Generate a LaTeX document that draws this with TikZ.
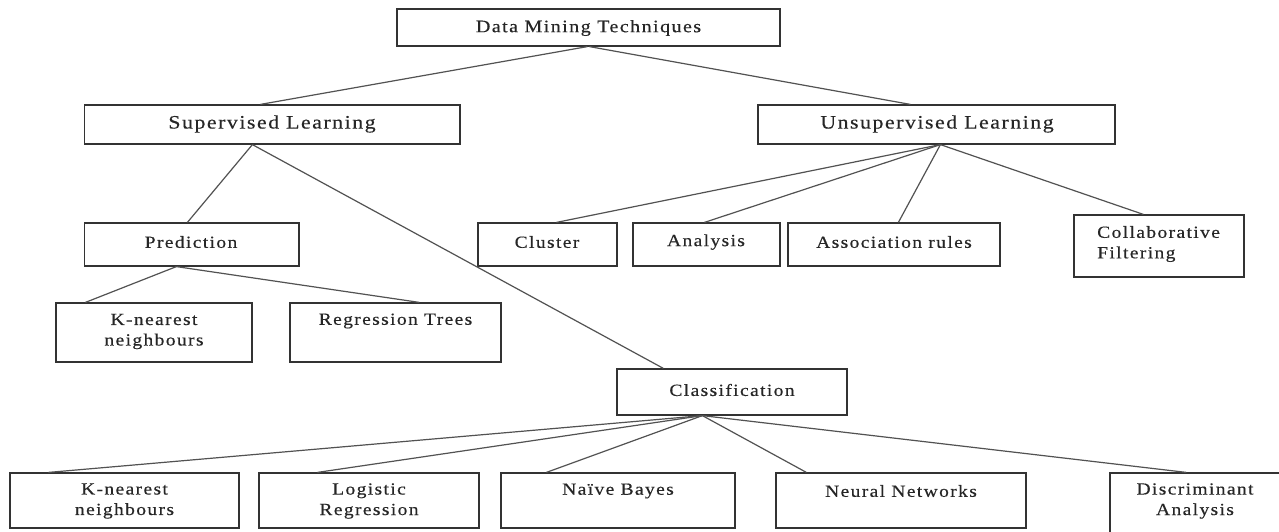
\documentclass[tikz,border=0pt]{standalone}
\usepackage{fontspec}
\setmainfont{Liberation Serif}[LetterSpace=8, FakeStretch=1.15, FakeBold=0.35]
\usetikzlibrary{fit}
\newcommand\mybox[5]{\node[box, fit={(#2,#3) (#4,#5)}] (#1) {};}
\begin{document}
\begin{tikzpicture}[x=1pt,y=-1pt,
  box/.style={draw=black!80, line width=1.2pt, inner sep=0pt},
  lbl/.style={font=\fontsize{17}{20.5}\selectfont, align=center, inner sep=0pt, text=black!85},
  head/.style={lbl, font=\fontsize{19}{22}\selectfont},
  top/.style={lbl, font=\fontsize{17.5}{21}\selectfont},
  con/.style={draw=black!68, line width=1.2pt}]
\clip (0,0) rectangle (1279,531);
\fill[white] (0,0) rectangle (1279,531);
% boxes
\mybox{dmt}{397}{9}{780}{46}
\mybox{sup}{84.5}{105}{460}{144}
\mybox{uns}{758}{105}{1115}{144}
\mybox{pred}{84.5}{223}{299}{266}
\mybox{clu}{478}{223}{617}{266}
\mybox{ana}{633}{223}{780}{266}
\mybox{asc}{788}{223}{1000}{266}
\mybox{col}{1074}{215}{1244}{277}
\mybox{kn1}{56}{303}{252}{362}
\mybox{rt}{290}{303}{501}{362}
\mybox{cls}{617}{369}{847}{415}
\mybox{kn2}{10}{473}{239}{528}
\mybox{lr}{259}{473}{479}{528}
\mybox{nb}{501}{473}{735}{528}
\mybox{nn}{776}{473}{1026}{528}
\mybox{da}{1110}{473}{1290}{540}
% texts
\node[top] (tdmt) at (588.5,28) {Data Mining Techniques};
\node[head] (tsup) at (272,124) {Supervised Learning};
\node[head] (tuns) at (937,124) {Unsupervised Learning};
\node[lbl] (tpred) at (191,242) {Prediction};
\node[lbl] (tclu) at (547,242) {Cluster};
\node[lbl] (tana) at (706,242) {\strut Analysis};
\node[lbl] (tasc) at (894,242) {Association rules};
\node[lbl, anchor=west, align=left] (tcol) at (1097,244) {Collaborative\\Filtering};
\node[lbl] (tkn1) at (154,331.5) {K-nearest\\neighbours};
\node[lbl] (trt) at (395.5,321) {Regression Trees};
\node[lbl] (tcls) at (732,390) {Classification};
\node[lbl] (tkn2) at (124.5,501) {K-nearest\\neighbours};
\node[lbl] (tlr) at (369,501) {Logistic\\Regression};
\node[lbl] (tnb) at (618,491) {Naïve Bayes};
\node[lbl] (tnn) at (901,491) {Neural Networks};
\node[lbl] (tda) at (1195,501) {Discriminant\\Analysis};
% connectors
\draw[con] ([xshift=191pt]dmt.south west) -- ([xshift=176.5pt]sup.north west);
\draw[con] ([xshift=193pt]dmt.south west) -- ([xshift=153pt]uns.north west);
\draw[con] ([xshift=168.5pt]sup.south west) -- ([xshift=103.5pt]pred.north west);
\draw[con] ([xshift=168.5pt]sup.south west) -- ([xshift=47pt]cls.north west);
\draw[con] ([xshift=183pt]uns.south west) -- ([xshift=79pt]clu.north west);
\draw[con] ([xshift=183pt]uns.south west) -- ([xshift=72pt]ana.north west);
\draw[con] ([xshift=183pt]uns.south west) -- ([xshift=111pt]asc.north west);
\draw[con] ([xshift=183pt]uns.south west) -- ([xshift=70pt]col.north west);
\draw[con] ([xshift=92.5pt]pred.south west) -- ([xshift=30pt]kn1.north west);
\draw[con] ([xshift=92.5pt]pred.south west) -- ([xshift=130pt]rt.north west);
\draw[con] ([xshift=86pt]cls.south west) -- ([xshift=39pt]kn2.north west);
\draw[con] ([xshift=86pt]cls.south west) -- ([xshift=59pt]lr.north west);
\draw[con] ([xshift=86pt]cls.south west) -- ([xshift=46pt]nb.north west);
\draw[con] ([xshift=86pt]cls.south west) -- ([xshift=31pt]nn.north west);
\draw[con] ([xshift=86pt]cls.south west) -- ([xshift=77pt]da.north west);
\end{tikzpicture}
\end{document}
